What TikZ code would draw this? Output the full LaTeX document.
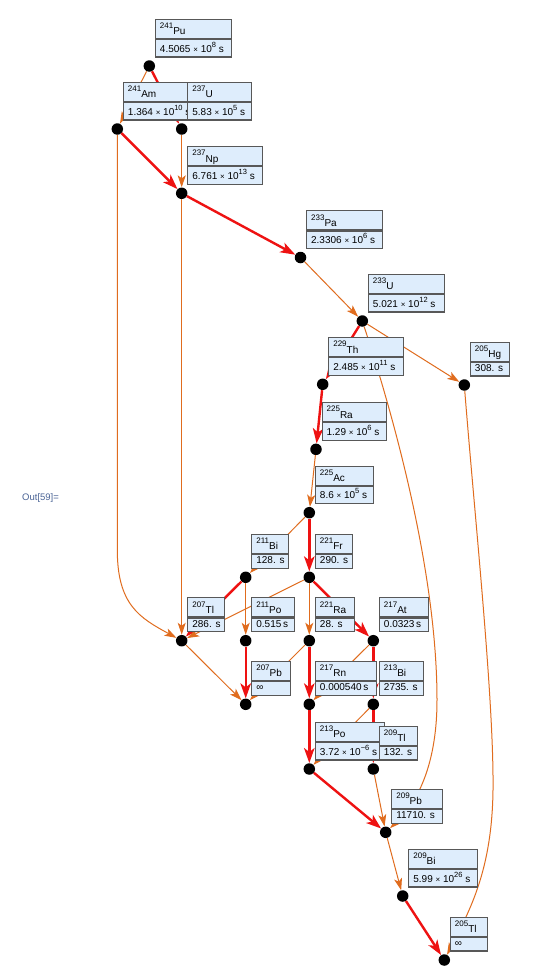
\documentclass[tikz,border=0pt]{standalone}
\usepackage{fontspec}
\setmainfont{Liberation Sans}
\usetikzlibrary{arrows.meta}
\definecolor{alphared}{RGB}{238,18,18}
\definecolor{betaorange}{RGB}{224,108,30}
\definecolor{boxfill}{RGB}{222,237,252}
\definecolor{boxgray}{RGB}{88,88,88}
\definecolor{outblue}{RGB}{75,100,150}
\newcommand\sci[2]{#1 {\fontsize{8}{9}\selectfont ×} 10\raisebox{5pt}{\fontsize{7.5}{8}\selectfont #2} s}
% #1 name, #2 dot, #3 width, #4 mass, #5 symbol, #6 bottom style, #7 half-life
\newcommand\isobox[7]{%
  \node[#6] (#2b) at ([shift={(5.6,-8.5)}]#2.center) {\makebox[\dimexpr#3pt-9pt\relax][l]{#7}};
  \node[toprow] (#2t) at (#2b.north west) {\makebox[\dimexpr#3pt-9pt\relax][l]{\raisebox{6.3pt}{\fontsize{8}{8}\selectfont #4}#5}};
}
\begin{document}
\begin{tikzpicture}[x=1pt,y=-1pt,
  isodot/.style={circle, fill=black, minimum size=11.5pt, inner sep=0pt},
  alphaedge/.style={draw=alphared, line width=2.4pt, -{Stealth[length=15pt,width=10.5pt,inset=4pt]}},
  betaedge/.style={draw=betaorange, line width=1pt, -{Stealth[length=12pt,width=8pt,inset=3pt]}},
  isorow/.style={draw=boxgray, fill=boxfill, line width=1.1pt, inner xsep=4.5pt, inner ysep=0pt, anchor=south west, font=\fontsize{10}{12}\selectfont},
  toprow/.style={isorow, text height=15.5pt, text depth=3.5pt},
  botsci/.style={isorow, text height=12.8pt, text depth=4.7pt},
  botplain/.style={isorow, text height=9.4pt, text depth=4.3pt},
  outlabel/.style={text=outblue, font=\fontsize{9.5}{11}\selectfont, inner sep=0pt, anchor=west}
]
\fill[white] (0,0) rectangle (553,980);
\useasboundingbox (0,0) rectangle (553,980);

\node[outlabel] (out) at (22,498) {Out[59]=};

% dots
\node[isodot] (Pu) at (149.3,66) {};
\node[isodot] (Am) at (117.3,129) {};
\node[isodot] (U237) at (181.7,129) {};
\node[isodot] (Np) at (181.7,193.3) {};
\node[isodot] (Pa) at (300.5,257.5) {};
\node[isodot] (U233) at (362.3,321) {};
\node[isodot] (Th) at (322.7,384.3) {};
\node[isodot] (Hg) at (464.3,385) {};
\node[isodot] (Ra225) at (316,449.3) {};
\node[isodot] (Ac) at (309.3,512.7) {};
\node[isodot] (Bi211) at (245.7,577.3) {};
\node[isodot] (Fr) at (309.3,577.3) {};
\node[isodot] (Tl207) at (181.7,640.7) {};
\node[isodot] (Po211) at (245.7,640.7) {};
\node[isodot] (Ra221) at (309.3,640.7) {};
\node[isodot] (At) at (373.3,640.7) {};
\node[isodot] (Pb207) at (245.7,704.3) {};
\node[isodot] (Rn) at (309.3,704.3) {};
\node[isodot] (Bi213) at (373.3,704.3) {};
\node[isodot] (Po213) at (309.3,769) {};
\node[isodot] (Tl209) at (373.3,769) {};
\node[isodot] (Pb209) at (385.7,832.3) {};
\node[isodot] (Bi209) at (402.7,896) {};
\node[isodot] (Tl205) at (444.3,960) {};

% edges
\draw[betaedge] (Pu) -- (Am);
\draw[alphaedge] (Pu) -- (U237);
\draw[alphaedge] (Am) -- (Np);
\draw[betaedge] (Am) -- (117.3,550) .. controls (117.3,605) and (140,618) .. (Tl207);
\draw[betaedge] (U237) -- (Np);
\draw[alphaedge] (Np) -- (Pa);
\draw[betaedge] (Np) -- (Tl207);
\draw[betaedge] (Pa) -- (U233);
\draw[alphaedge] (U233) -- (Th);
\draw[betaedge] (U233) -- (Hg);
\draw[betaedge] (U233) .. controls (385,390) and (437,560) .. (437,700) .. controls (437,760) and (420,800) .. (Pb209);
\draw[betaedge] (Hg) .. controls (475,520) and (494,700) .. (493,790) .. controls (492,870) and (470,910) .. (Tl205);
\draw[alphaedge] (Th) -- (Ra225);
\draw[betaedge] (Ra225) -- (Ac);
\draw[alphaedge] (Ac) -- (Fr);
\draw[betaedge] (Ac) -- (Bi211);
\draw[alphaedge] (Bi211) -- (Tl207);
\draw[betaedge] (Bi211) -- (Po211);
\draw[alphaedge] (Fr) -- (At);
\draw[betaedge] (Fr) -- (Ra221);
\draw[betaedge] (Fr) -- (Tl207);
\draw[betaedge] (Tl207) -- (Pb207);
\draw[alphaedge] (Po211) -- (Pb207);
\draw[alphaedge] (Ra221) -- (Rn);
\draw[betaedge] (Ra221) -- (Pb207);
\draw[alphaedge] (At) -- (Bi213);
\draw[betaedge] (At) -- (Rn);
\draw[alphaedge] (Rn) -- (Po213);
\draw[alphaedge] (Bi213) -- (Tl209);
\draw[betaedge] (Bi213) -- (Po213);
\draw[alphaedge] (Po213) -- (Pb209);
\draw[betaedge] (Tl209) -- (Pb209);
\draw[betaedge] (Pb209) -- (Bi209);
\draw[alphaedge] (Bi209) -- (Tl205);

% labels
\isobox{Pu}{Pu}{76}{241}{Pu}{botsci}{\sci{4.5065}{8}}
\isobox{Am}{Am}{77}{241}{Am}{botsci}{\sci{1.364}{10}}
\isobox{U237}{U237}{64}{237}{U}{botsci}{\sci{5.83}{5}}
\isobox{Np}{Np}{75}{237}{Np}{botsci}{\sci{6.761}{13}}
\isobox{Pa}{Pa}{76}{233}{Pa}{botsci}{\sci{2.3306}{6}}
\isobox{U233}{U233}{76}{233}{U}{botsci}{\sci{5.021}{12}}
\isobox{Th}{Th}{75}{229}{Th}{botsci}{\sci{2.485}{11}}
\isobox{Hg}{Hg}{39}{205}{Hg}{botplain}{308. s}
\isobox{Ra225}{Ra225}{64}{225}{Ra}{botsci}{\sci{1.29}{6}}
\isobox{Ac}{Ac}{58}{225}{Ac}{botsci}{\sci{8.6}{5}}
\isobox{Bi211}{Bi211}{37}{211}{Bi}{botplain}{128. s}
\isobox{Fr}{Fr}{37}{221}{Fr}{botplain}{290. s}
\isobox{Tl207}{Tl207}{37}{207}{Tl}{botplain}{286. s}
\isobox{Po211}{Po211}{43}{211}{Po}{botplain}{0.515\,s}
\isobox{Ra221}{Ra221}{39}{221}{Ra}{botplain}{28. s}
\isobox{At}{At}{49}{217}{At}{botplain}{0.0323\,s}
\isobox{Pb207}{Pb207}{39}{207}{Pb}{botplain}{∞}
\isobox{Rn}{Rn}{61}{217}{Rn}{botplain}{0.000540\,s}
\isobox{Bi213}{Bi213}{44}{213}{Bi}{botplain}{2735. s}
\isobox{Po213}{Po213}{69}{213}{Po}{botsci}{\sci{3.72}{−6}}
\isobox{Tl209}{Tl209}{38}{209}{Tl}{botplain}{132. s}
\isobox{Pb209}{Pb209}{51}{209}{Pb}{botplain}{11710. s}
\isobox{Bi209}{Bi209}{69}{209}{Bi}{botsci}{\sci{5.99}{26}}
\isobox{Tl205}{Tl205}{37}{205}{Tl}{botplain}{∞}
\end{tikzpicture}
\end{document}
